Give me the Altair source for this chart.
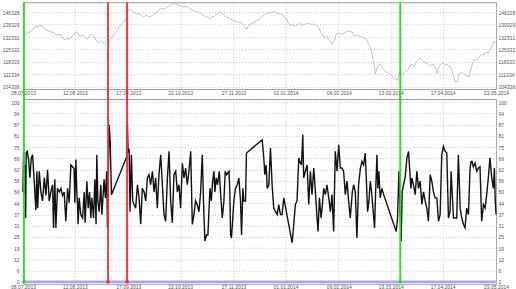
import altair as alt
import pandas as pd

# ---------------- data ----------------
START = "2013-07-08"
END = "2014-05-23"
tick_dates = ["2013-07-08", "2013-08-12", "2013-09-17", "2013-10-22", "2013-11-27",
              "2014-01-01", "2014-02-06", "2014-03-13", "2014-04-17", "2014-05-23"]

price_ticks = [104336, 111334, 118333, 125332, 132331, 139329, 146328]
osc_tick_pos = [0, 6.25, 12.5, 18.75, 25, 31.25, 37.5, 43.75, 50, 56.25, 62.5, 68.75, 75,
                81.25, 87.5, 93.75, 100]
osc_tick_labels = ["0", "6", "12", "19", "25", "31", "37", "44", "50", "56", "62", "69", "75",
                   "81", "87", "94", "100"]

# days since 08.07.2013 and price values (upper panel)
price_days = [0, 0.5, 1.3, 2.7, 4.7, 6.7, 8.7, 10.1, 11.4, 12.8, 14.1, 15.5, 17.5, 19.5, 21.5,
              22.9, 24.9, 26.9, 28.3, 29.6, 31.0, 33.0, 35.0, 36.3, 37.7, 39.0, 40.4, 41.7,
              43.1, 44.4, 45.8, 47.1, 48.5, 49.8, 51.1, 52.5, 53.8, 55.2, 56.5, 57.5,
              70.0, 70.7, 72.0, 73.4, 74.7, 76.7, 78.7, 80.1, 81.4, 82.8, 84.1, 85.5, 87.5,
              89.5, 91.5, 93.5, 95.6, 97.6, 99.6, 101.6, 103.0, 104.3, 106.3, 108.3, 110.3,
              112.4, 114.4, 116.4, 118.4, 120.5, 122.5, 124.5, 125.8, 127.2, 129.2, 131.2,
              133.2, 135.3, 137.3, 139.3, 141.3, 143.3, 145.4, 147.4, 148.7, 150.1, 151.1,
              152.1, 154.8, 157.5, 159.5, 161.5, 163.5, 165.5, 167.6, 169.6, 171.6, 173.6,
              175.6, 177.7, 179.0, 180.4, 181.7, 183.0, 184.4, 186.4, 188.4, 190.4, 192.5,
              194.5, 196.5, 198.5, 200.5, 201.9, 203.2, 204.6, 205.9, 207.3, 208.6, 210.0,
              211.3, 212.7, 214.7, 216.7, 218.7, 220.7, 222.1, 223.4, 224.8, 226.8, 228.8,
              230.1, 231.5, 232.8, 234.2, 235.5, 236.2, 236.9, 237.6, 238.9, 240.2, 241.6,
              242.9, 244.3, 246.3, 248.3, 250.3, 252.4, 253.4, 254.4, 255.7, 257.1, 258.4,
              259.8, 261.1, 262.5, 263.8, 265.1, 266.5, 267.8, 269.2, 270.5, 271.9, 273.2,
              274.6, 275.9, 277.3, 278.6, 279.3, 280.6, 282.0, 283.4, 284.7, 286.0, 287.4,
              288.7, 290.1, 291.4, 292.8, 294.1, 295.5, 296.8, 298.1, 299.5, 300.8, 301.5,
              302.8, 304.2, 305.5, 306.9, 308.2, 309.6, 310.9, 312.2, 313.6, 314.9, 316.3,
              317.6, 318.6]
price_vals = [127600, 127800, 133400, 134500, 135100, 136800, 138500, 137900, 139000, 138500,
              137900, 136200, 135700, 135100, 134500, 133400, 133900, 131700, 130600, 131700,
              131100, 132300, 134500, 135400, 133400, 132800, 133400, 132300, 131100, 132300,
              133900, 133400, 131700, 130000, 129400, 130000, 128900, 129400, 128600, 129400,
              143600, 146900, 148100, 146900, 146400, 145800, 145300, 144700, 143600, 144700,
              144100, 143600, 144700, 145800, 147500, 148600, 148100, 149200, 150300, 151500,
              151700, 150300, 149800, 149200, 149800, 148600, 147500, 146900, 146400, 145300,
              144100, 143600, 142400, 143600, 144100, 145800, 146400, 144700, 143600, 143000,
              141900, 141300, 140700, 140200, 139000, 137300, 136800, 139000, 140200, 141600,
              142400, 144100, 145300, 145800, 146400, 146700, 145800, 145300, 144700, 142400,
              140200, 138500, 139600, 138500, 139000, 140200, 139000, 139600, 140200, 139600,
              139600, 138500, 135700, 133400, 131700, 132800, 131100, 130000, 128300, 130600,
              133900, 134500, 133900, 134500, 135700, 135400, 135100, 132800, 133400, 132800,
              132300, 131100, 131700, 128900, 126600, 122700, 119300, 115900, 111400, 115300,
              117000, 116500, 114200, 113100, 112000, 110800, 109100, 108000, 110800, 113600,
              110800, 112000, 113100, 114200, 116500, 117000, 115900, 118200, 119300, 120400,
              119300, 118200, 117600, 117000, 115900, 117000, 116500, 114200, 111800, 115900,
              117000, 117600, 116500, 117000, 115900, 114800, 111400, 106900, 106900, 111400,
              112500, 112000, 110800, 110300, 109700, 112500, 116500, 119800, 119300, 120400,
              121500, 122700, 122100, 123800, 123200, 124900, 127200, 130000, 128900]

# days since 08.07.2013 and oscillator values (lower panel)
osc_days = [0.0, 0.45, 0.9, 1.35, 1.8, 2.2, 2.9, 3.8, 4.7, 5.6, 6.5, 7.6, 8.7, 9.4, 9.9, 11.0,
            12.1, 13.2, 14.4, 15.5, 16.6, 17.7, 18.8, 20.0, 20.6, 21.5, 22.2, 23.3, 24.5, 25.6,
            26.7, 27.8, 28.9, 30.1, 31.2, 32.3, 33.4, 34.5, 35.0, 35.7, 36.3, 36.8, 37.2, 37.9,
            39.0, 40.2, 41.3, 41.9, 43.1, 44.0, 44.9, 45.8, 46.4, 47.6, 48.5, 49.3, 49.8, 50.5,
            51.4, 52.5, 53.2, 53.8, 54.7, 55.6, 56.5, 57.0, 57.4, 58.1, 58.8, 59.7, 70.0, 70.4,
            70.9, 71.6, 72.2, 73.1, 74.0, 74.9, 76.0, 77.2, 78.3, 79.4, 80.5, 81.7, 82.8, 83.9,
            85.0, 86.1, 87.3, 88.4, 89.5, 90.6, 91.7, 92.9, 94.0, 95.1, 96.2, 97.4, 98.5, 99.6,
            100.7, 101.8, 103.0, 104.1, 105.2, 106.3,
            107.5, 108.6, 109.7, 110.8, 111.9, 113.1, 114.2, 115.3, 116.4, 117.5, 118.7, 119.8,
            120.9, 122.0, 122.7, 123.8, 124.7, 126.1, 127.0, 127.9, 128.8, 129.4, 130.3, 131.2,
            132.4, 133.2, 134.4, 135.5, 136.4, 137.3, 138.9, 139.5, 140.0, 140.6, 141.5, 142.2,
            143.3, 144.5, 145.6, 146.7, 147.4, 148.3, 148.9, 150.1, 150.7, 161.3, 162.4, 163.1,
            164.0, 164.7, 165.8, 166.9, 168.0, 169.1, 170.3, 171.4, 172.5, 173.6, 174.7, 175.9,
            181.5, 182.6, 183.7, 184.8, 186.0, 186.6, 187.8, 188.7, 189.3, 190.4, 191.6, 192.7,
            193.8, 194.9, 196.1, 197.2, 198.3, 199.0, 199.9, 201.0, 201.7, 202.8, 203.9, 205.0,
            206.2, 207.3, 208.4, 209.5, 210.6, 211.8, 212.9, 214.0, 215.1, 216.2, 217.4, 218.5,
            219.6, 220.7,
            222.1, 223.0, 224.1, 225.2, 226.3, 227.5, 228.6, 229.7, 230.8, 231.5, 232.4, 233.3,
            234.2, 235.1, 236.0, 237.1, 237.8, 238.7, 239.3, 240.0, 240.9, 242.0, 243.2, 251.7,
            252.6, 253.5, 254.4, 255.0, 255.7, 256.6, 257.7, 258.9, 260.0, 260.7, 261.6, 262.2,
            263.3, 264.5, 265.6, 266.7, 267.8, 269.0, 270.1, 271.2, 272.3, 273.4, 274.6, 275.7,
            276.8, 277.9, 279.1, 280.2, 281.3, 282.4, 283.5, 284.7, 285.8, 286.9, 288.0, 288.7,
            289.4, 290.3, 291.4, 292.5, 293.6, 294.8, 295.9, 297.0, 298.1, 299.2, 300.4, 301.5,
            302.2, 302.8, 303.7, 304.8, 306.0, 307.1, 308.2, 309.3, 310.5, 311.6, 312.7, 313.8,
            314.9, 316.1, 317.2, 317.9, 318.5, 319.0]
osc_vals = [50, 72, 48, 65, 35.5, 72, 72.6, 68, 58, 69, 70.7, 56, 40, 61.5, 41, 61.5,
            50, 45, 58, 48, 62.4, 45, 50, 54, 30, 57, 30, 52, 50, 52,
            48, 50, 33.7, 52, 44, 65, 64, 63, 44, 68, 50, 43, 32, 46.7,
            37.4, 35.5, 50, 32.8, 56, 41, 50, 35.5, 46.7, 35.5, 57, 32, 70.7, 45,
            39, 54, 37.4, 45, 57, 46.7, 61.5, 30, 50, 87.4, 78, 48.5, 69.8, 87.4,
            72, 74, 39, 70.7, 45, 43, 41, 54, 46.7, 32, 52, 50, 45, 57.8,
            59.6, 54, 61.5, 50, 57.8, 41, 59.6, 70.7, 54, 37.4, 33.7, 57.8, 72.6, 45,
            32.8, 59.6, 61.5, 50, 54, 41,
            66, 57.8, 63.3, 54, 61.5, 72.6, 31.9, 37.4, 45, 43, 39, 50,
            70.7, 37.4, 22.6, 26, 26, 52, 45, 56, 61.5, 50, 57.8, 54,
            61.5, 50, 35.5, 45, 61.5, 59.6, 61.5, 50, 26, 24.4, 35.5, 45,
            52, 54, 57.8, 45, 26, 52, 45, 45, 71.7, 79, 69, 59.6,
            65, 52, 54, 74.4, 54, 41, 39, 37.4, 43, 37.4, 37.4, 46.7,
            21.7, 32, 43, 45, 69, 67, 65, 81.9, 57.8, 61.5, 65, 43,
            61.5, 48.5, 63.3, 50, 35.5, 28, 46.7, 35.5, 41, 52, 48.5, 54,
            46.7, 39, 48.5, 28, 72.6, 61.5, 76.3, 63.3, 63.3, 61.5, 48.5, 56,
            45, 35.5,
            50, 54, 50, 24.4, 54, 63, 67, 65, 71.7, 57.8, 39, 45,
            56, 50, 41, 30, 50, 70.7, 52, 61.5, 46.7, 52, 48.5, 28,
            35.5, 61.5, 35.5, 22.6, 50, 54, 57.8, 69, 72.6, 63.3, 52, 57.8,
            54, 48.5, 61.5, 52, 56, 43, 50, 45, 41, 33.7, 59.6, 56,
            50, 46.7, 46.7, 33.7, 37.4, 70.7, 75.4, 72.6, 71.7, 35.5, 39, 61.5,
            50, 35.5, 35.5, 35.5, 70.7, 41, 35.5, 32, 30, 41, 37.4, 63.3,
            67, 67, 64, 66, 61.5, 63.3, 64, 33.7, 43, 41, 48.5, 57.8,
            69, 57.8, 52, 63.3, 44.8, 37.4]

baseline_days = [0, 319]
baseline_vals = [0, 0]

marker_days = [0.7, 57.4, 70.2, 254.4]
marker_colors = ["#22e022", "#ff2a2a", "#ff2a2a", "#22e022"]

# ---------------- frames ----------------
t0 = pd.Timestamp(START)


def to_dates(days):
    return [t0 + pd.to_timedelta(d, unit="D") for d in days]


price_df = pd.DataFrame({"date": to_dates(price_days), "value": price_vals})
osc_df = pd.DataFrame({"date": to_dates(osc_days), "value": osc_vals})
base_df = pd.DataFrame({"date": to_dates(baseline_days), "value": baseline_vals})
mark_df = pd.DataFrame({"date": to_dates(marker_days), "color": marker_colors, "value": 0})


def dt(s):
    t = pd.Timestamp(s)
    return alt.DateTime(year=t.year, month=t.month, date=t.day)


W = 474
H1 = 87
H2 = 185
GAP = 10

lab = dict(labelFont="Liberation Sans", labelFontSize=5, labelColor="#555555")
grd = dict(gridColor="#c4c4c4", gridDash=[1, 2], gridWidth=1)

x_enc = alt.X(
    "date:T",
    scale=alt.Scale(domain=[dt(START), dt(END)]),
    axis=alt.Axis(values=[dt(s) for s in tick_dates], format="%d.%m.%Y", title=None,
                  ticks=False, domain=False, grid=True, labelPadding=1, labelFlush=False,
                  labelOverlap=False, labelBound=False, **lab, **grd),
)

# ---------------- upper panel ----------------
p_scale = alt.Scale(domain=[102927, 151965], nice=False, zero=False)
p_left = alt.Chart(price_df).mark_line(color="#b4b4b4", strokeWidth=0.8).encode(
    x=x_enc,
    y=alt.Y("value:Q", scale=p_scale,
            axis=alt.Axis(values=price_ticks, format="d", title=None, ticks=False, domain=False,
                          grid=True, labelPadding=4, orient="left", **lab, **grd)),
)
p_right = alt.Chart(price_df).mark_line(opacity=0).encode(
    x=x_enc,
    y=alt.Y("value:Q", scale=p_scale,
            axis=alt.Axis(values=price_ticks, format="d", title=None, ticks=False, domain=False,
                          grid=False, labelPadding=2, orient="right", **lab)),
)
p_rules = alt.Chart(mark_df).mark_rule(strokeWidth=1.8).encode(
    x=x_enc, y=alt.value(0), y2=alt.value(H1 + GAP),
    color=alt.Color("color:N", scale=None),
)
top = alt.layer(p_left, p_right, p_rules).resolve_scale(y="independent").properties(
    width=W, height=H1)

# ---------------- lower panel ----------------
o_scale = alt.Scale(domain=[-1.1, 101.7], nice=False, zero=False)
expr = "''"
for p, l in reversed(list(zip(osc_tick_pos, osc_tick_labels))):
    expr = f"datum.value == {p} ? '{l}' : ({expr})"

o_base = alt.Chart(base_df).mark_line(color="#a8a8f0", strokeWidth=2.5).encode(
    x=x_enc, y=alt.Y("value:Q", scale=o_scale, axis=None))
o_left = alt.Chart(osc_df).mark_line(color="#111111", strokeWidth=1.4).encode(
    x=x_enc,
    y=alt.Y("value:Q", scale=o_scale,
            axis=alt.Axis(values=osc_tick_pos, labelExpr=expr, title=None, ticks=False,
                          domain=False, grid=True, labelPadding=4, orient="left", **lab, **grd)),
)
o_right = alt.Chart(osc_df).mark_line(opacity=0).encode(
    x=x_enc,
    y=alt.Y("value:Q", scale=o_scale,
            axis=alt.Axis(values=osc_tick_pos, labelExpr=expr, title=None, ticks=False,
                          domain=False, grid=False, labelPadding=2, orient="right", **lab)),
)
o_rules = alt.Chart(mark_df).mark_rule(strokeWidth=1.8).encode(
    x=x_enc, y=alt.value(-GAP), y2=alt.value(H2 - 1),
    color=alt.Color("color:N", scale=None),
)
o_dots = alt.Chart(mark_df).mark_circle(size=14, opacity=1).encode(
    x=x_enc, y=alt.Y("value:Q", scale=o_scale, axis=None),
    color=alt.Color("color:N", scale=None),
)
bottom = alt.layer(o_base, o_left, o_right, o_rules, o_dots).resolve_scale(
    y="independent").properties(width=W, height=H2)

chart = alt.vconcat(top, bottom, spacing=GAP, bounds="flush").properties(
    padding={"left": 1, "top": 0, "right": 0, "bottom": 0}, background="white"
).configure_view(stroke="#9a9a9a", strokeWidth=1)

chart.save("out.html", embed_options={"renderer": "svg", "actions": False})
